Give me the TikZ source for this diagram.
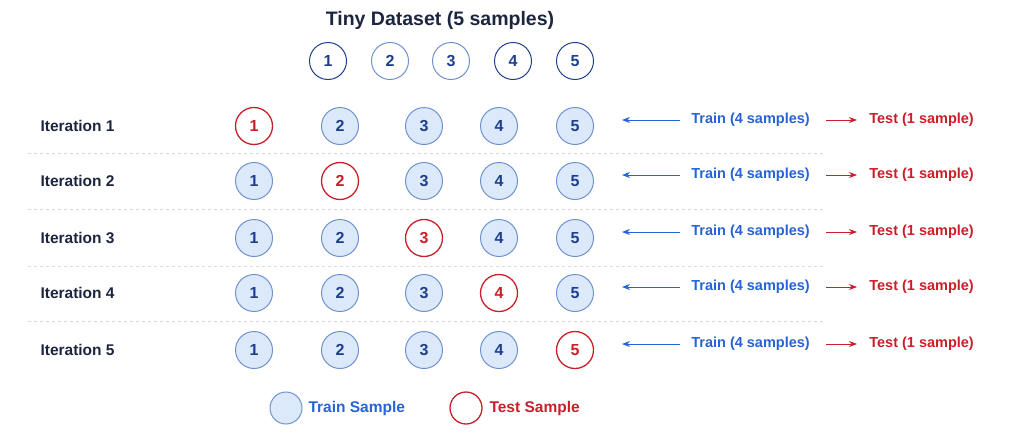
\documentclass[tikz,border=0pt]{standalone}
\usepackage{fontspec}
\setmainfont{Liberation Sans}
\usetikzlibrary{arrows.meta}
\definecolor{navy}{HTML}{1E3F8A}
\definecolor{ink}{HTML}{1C2540}
\definecolor{tblue}{HTML}{2563D6}
\definecolor{tred}{HTML}{C8202A}
\definecolor{fillb}{HTML}{DCE9FA}
\definecolor{edgeb}{HTML}{6F92CF}
\begin{document}
\begin{tikzpicture}[x=1pt,y=-1pt,
  samp/.style={circle,minimum size=37pt,inner sep=0pt,line width=1pt,font=\bfseries\fontsize{16}{16}\selectfont},
  dset/.style={samp,draw=navy,text=navy},
  dsetl/.style={samp,draw=edgeb,text=navy},
  train/.style={samp,draw=edgeb,fill=fillb,text=navy},
  test/.style={samp,draw=tred,line width=1.3pt,text=tred},
  lbl/.style={font=\bfseries\fontsize{15.5}{15.5}\selectfont,text=ink,anchor=west},
  trtxt/.style={font=\bfseries\fontsize{14.5}{14.5}\selectfont,text=tblue,anchor=west},
  tetxt/.style={font=\bfseries\fontsize{14.5}{14.5}\selectfont,text=tred,anchor=west},
  lgtxt/.style={font=\bfseries\fontsize{15.5}{15.5}\selectfont,anchor=west},
  sep/.style={draw=black!15,dashed,line width=0.8pt}]
\useasboundingbox (0,0) rectangle (1024,439);
\node[font=\bfseries\fontsize{19.5}{19.5}\selectfont,text=ink] (title) at (440,20) {Tiny Dataset (5 samples)};
\node[dset] (d1) at (328,61) {1};
\node[dsetl] (d2) at (390,61) {2};
\node[dsetl] (d3) at (451,61) {3};
\node[dset] (d4) at (513,61) {4};
\node[dset] (d5) at (575,61) {5};
\foreach \r/\y in {1/126,2/181,3/238,4/293,5/350}{
  \node[lbl] (it\r) at (37,\y) {Iteration \r};
  \foreach \c/\x in {1/254,2/340,3/424,4/499,5/575}{
    \ifnum\c=\r \node[test] (s\r\c) at (\x,\y) {\c};
    \else \node[train] (s\r\c) at (\x,\y) {\c};\fi
  }
  \node[trtxt,outer sep=8pt] (tr\r) at (680,\y-6) {Train (4 samples)};
  \coordinate (ta\r) at (622,\y-6);
  \draw[tblue,line width=0.9pt,-{Stealth[length=8pt,width=6pt]}] (tr\r.west) -- (ta\r);
  \node[tetxt,outer sep=9pt] (te\r) at (857,\y-6) {Test (1 sample)};
  \coordinate (tb\r) at (826,\y-6);
  \draw[tred,line width=0.9pt,-{Stealth[length=8pt,width=6pt]}] (tb\r) -- (te\r.west);
}
\foreach \y in {153,209,266,321}{
  \coordinate (a\y) at (28,\y); \coordinate (b\y) at (825,\y);
  \draw[sep] (a\y) -- (b\y);
}
\node[train,minimum size=32pt] (lg1) at (286,408) {};
\node[lgtxt,text=tblue] (lt1) at (305,408) {Train Sample};
\node[test,minimum size=32pt] (lg2) at (466,408) {};
\node[lgtxt,text=tred] (lt2) at (486,408) {Test Sample};
\end{tikzpicture}
\end{document}
